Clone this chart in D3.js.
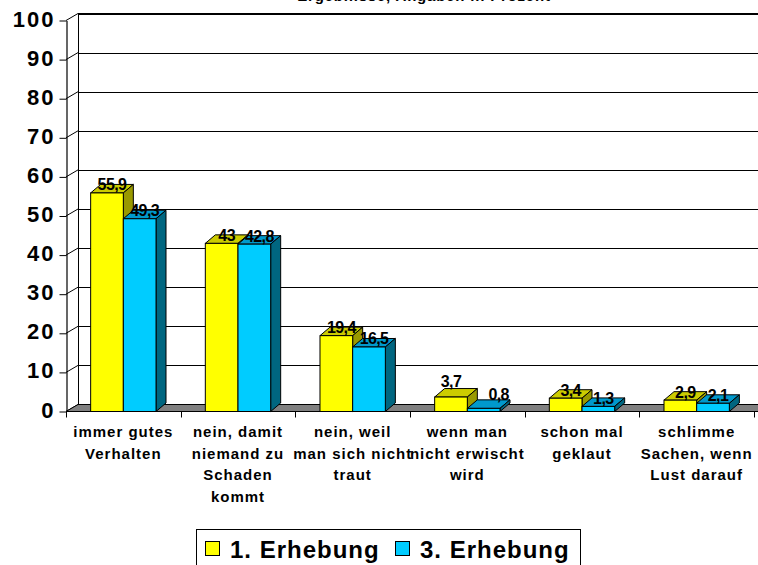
<!DOCTYPE html>
<html>
<head>
<meta charset="utf-8">
<script src="https://cdn.jsdelivr.net/npm/d3@7"></script>
<style>
  body { margin: 0; background: #fff; }
  svg { display: block; font-family: "Liberation Sans", Arial, sans-serif; }
  text { font-weight: bold; fill: #000; }
</style>
</head>
<body>
<svg width="758" height="565"></svg>
<script>
// chart data
var categories = [
  ["immer gutes", "Verhalten"],
  ["nein, damit", "niemand zu", "Schaden", "kommt"],
  ["nein, weil", "man sich nicht", "traut"],
  ["wenn man", "nicht erwischt", "wird"],
  ["schon mal", "geklaut"],
  ["schlimme", "Sachen, wenn", "Lust darauf"]
];
var seriesNames = ["1. Erhebung", "3. Erhebung"];
var erhebung1 = [55.9, 43, 19.4, 3.7, 3.4, 2.9];
var erhebung3 = [49.3, 42.8, 16.5, 0.8, 1.3, 2.1];
var yTicks = [0, 10, 20, 30, 40, 50, 60, 70, 80, 90, 100];
var titleText = "Ergebnisse, Angaben in Prozent";

// face colours: front, top, side
var palette = [
  {front: "#ffff00", top: "#cccc00", side: "#999900"},
  {front: "#00ccff", top: "#0099cc", side: "#006680"}
];

var svg = d3.select("svg");

var plotLeft = 66, plotRight = 754, plotBottom = 411.5, plotTop = 20.5;
var wallDx = 12, wallDy = -7;   // depth of walls
var barDx = 10, barDy = -8.5;   // depth of columns

var keys = categories.map(function(d, i) { return "c" + i; });

var xScale = d3.scaleBand()
    .domain(keys)
    .range([plotLeft, plotRight]);

var bw = xScale.bandwidth();
var groupW = bw * 0.57;

var x1 = d3.scaleBand()
    .domain([0, 1])
    .range([bw / 2 - groupW / 2, bw / 2 + groupW / 2]);

var yScale = d3.scaleLinear()
    .domain([0, 100])
    .range([plotBottom, plotTop]);

// title, cut at the top edge
svg.append("text")
    .attr("x", 424)
    .attr("y", 0.5)
    .attr("text-anchor", "middle")
    .style("font-size", "15px")
    .style("letter-spacing", "0.8px")
    .text(titleText);

var g = svg.append("g");

// back wall
g.append("rect")
    .attr("x", plotLeft + wallDx + 0.5)
    .attr("y", yScale(100) + wallDy)
    .attr("width", plotRight - plotLeft + 20)
    .attr("height", yScale(0) - yScale(100))
    .attr("fill", "#fff")
    .attr("stroke", "#000")
    .attr("stroke-width", 1);

// gridlines on back wall and side wall
g.selectAll(".grid")
    .data(yTicks)
    .enter()
    .append("line")
    .attr("class", "grid")
    .attr("x1", plotLeft + wallDx)
    .attr("x2", plotRight + wallDx + 20)
    .attr("y1", function(d) { return Math.round(yScale(d) + wallDy) + 0.5; })
    .attr("y2", function(d) { return Math.round(yScale(d) + wallDy) + 0.5; })
    .attr("stroke", "#000")
    .attr("stroke-width", 1.2);

g.selectAll(".sidegrid")
    .data(yTicks)
    .enter()
    .append("line")
    .attr("class", "sidegrid")
    .attr("x1", plotLeft)
    .attr("y1", function(d) { return yScale(d); })
    .attr("x2", plotLeft + wallDx)
    .attr("y2", function(d) { return yScale(d) + wallDy; })
    .attr("stroke", "#000")
    .attr("stroke-width", 1);

// floor
g.append("path")
    .attr("d", "M" + plotLeft + "," + plotBottom +
               "L" + (plotLeft + wallDx) + "," + (plotBottom + wallDy) +
               "L" + (plotRight + wallDx + 20) + "," + (plotBottom + wallDy) +
               "L" + (plotRight + 20) + "," + plotBottom + "Z")
    .attr("fill", "#808080")
    .attr("stroke", "#000")
    .attr("stroke-width", 1);

// y axis
var yAxis = g.append("g")
    .attr("class", "y axis")
    .attr("transform", "translate(" + (plotLeft + 0.5) + ",0)")
    .call(d3.axisLeft(yScale).tickValues(yTicks).tickSize(7).tickSizeOuter(0).tickPadding(4));

yAxis.select(".domain").attr("stroke", "#000").attr("stroke-width", 1.2);
yAxis.selectAll(".tick line").attr("stroke", "#000");
yAxis.selectAll(".tick text")
    .attr("y", -1.5)
    .style("font-size", "22px")
    .style("font-family", "'Liberation Sans', Arial, sans-serif")
    .style("font-weight", "bold")
    .style("letter-spacing", "2px")
    .attr("fill", "#000");

// bars
var rows = [];
categories.forEach(function(c, i) {
  [erhebung1[i], erhebung3[i]].forEach(function(v, s) {
    rows.push({cat: keys[i], ci: i, s: s, v: v});
  });
});

function barX(d) { return xScale(d.cat) + x1(d.s); }

var bar = g.selectAll(".bar")
    .data(rows)
    .enter()
    .append("g")
    .attr("class", "bar");

bar.append("path")
    .attr("d", function(d) {
      var x0 = barX(d), xw = x0 + x1.bandwidth(), yt = yScale(d.v);
      return "M" + x0 + "," + yt + "L" + (x0 + barDx) + "," + (yt + barDy) +
             "L" + (xw + barDx) + "," + (yt + barDy) + "L" + xw + "," + yt + "Z";
    })
    .attr("fill", function(d) { return palette[d.s].top; })
    .attr("stroke", "#000")
    .attr("stroke-linejoin", "round");

bar.append("path")
    .attr("d", function(d) {
      var xw = barX(d) + x1.bandwidth(), yt = yScale(d.v);
      return "M" + xw + "," + yt + "L" + (xw + barDx) + "," + (yt + barDy) +
             "L" + (xw + barDx) + "," + (plotBottom + barDy) + "L" + xw + "," + plotBottom + "Z";
    })
    .attr("fill", function(d) { return palette[d.s].side; })
    .attr("stroke", "#000")
    .attr("stroke-linejoin", "round");

bar.append("rect")
    .attr("x", barX)
    .attr("y", function(d) { return yScale(d.v); })
    .attr("width", x1.bandwidth())
    .attr("height", function(d) { return plotBottom - yScale(d.v); })
    .attr("fill", function(d) { return palette[d.s].front; })
    .attr("stroke", "#000");

// front edge of floor + category ticks
g.append("line")
    .attr("x1", plotLeft)
    .attr("x2", plotRight + 20)
    .attr("y1", plotBottom)
    .attr("y2", plotBottom)
    .attr("stroke", "#000")
    .attr("stroke-width", 1.2);

var xTicks = keys.map(function(k) { return xScale(k); }).concat([plotRight]);
g.selectAll(".xtick")
    .data(xTicks)
    .enter()
    .append("line")
    .attr("class", "xtick")
    .attr("x1", function(d) { return Math.round(d) + 0.5; })
    .attr("x2", function(d) { return Math.round(d) + 0.5; })
    .attr("y1", plotBottom)
    .attr("y2", plotBottom + 6)
    .attr("stroke", "#000");

// value labels (the 4th group was shifted apart in the original)
var labelNudge = {"c3-0": [-5, -7.5], "c3-1": [10, -6]};

g.selectAll(".vlabel")
    .data(rows)
    .enter()
    .append("text")
    .attr("class", "vlabel")
    .attr("x", function(d) {
      var n = labelNudge[d.cat + "-" + d.s] || [0, 0];
      return barX(d) + x1.bandwidth() / 2 + 5 + n[0];
    })
    .attr("y", function(d) {
      var n = labelNudge[d.cat + "-" + d.s] || [0, 0];
      return yScale(d.v) - 2.5 + n[1];
    })
    .attr("text-anchor", "middle")
    .style("font-size", "16px")
    .style("letter-spacing", "-0.6px")
    .text(function(d) { return String(d.v).replace(".", ","); });

// category labels
var catLabel = g.selectAll(".catlabel")
    .data(categories)
    .enter()
    .append("text")
    .attr("class", "catlabel")
    .attr("text-anchor", "middle")
    .style("font-size", "15px")
    .style("letter-spacing", "1px")
    .attr("transform", function(d, i) {
      return "translate(" + (xScale(keys[i]) + bw / 2) + ",437)";
    });

catLabel.selectAll("tspan")
    .data(function(d) { return d; })
    .enter()
    .append("tspan")
    .attr("x", 0)
    .attr("y", function(d, i) { return i * 21.5; })
    .text(function(d) { return d; });

// legend
var legend = svg.append("g")
    .attr("class", "legend");

legend.append("rect")
    .attr("x", 196.5)
    .attr("y", 529.5)
    .attr("width", 384)
    .attr("height", 50)
    .attr("fill", "#fff")
    .attr("stroke", "#000");

var legendX = [205, 395];
var item = legend.selectAll(".item")
    .data(seriesNames)
    .enter()
    .append("g")
    .attr("class", "item")
    .attr("transform", function(d, i) { return "translate(" + legendX[i] + ",0)"; });

item.append("rect")
    .attr("x", 0.5)
    .attr("y", 541.5)
    .attr("width", 14)
    .attr("height", 14)
    .attr("fill", function(d, i) { return palette[i].front; })
    .attr("stroke", "#000");

item.append("text")
    .attr("x", 25)
    .attr("y", 557.5)
    .style("font-size", "24px")
    .style("letter-spacing", "1px")
    .text(function(d) { return d; });
</script>
</body>
</html>
